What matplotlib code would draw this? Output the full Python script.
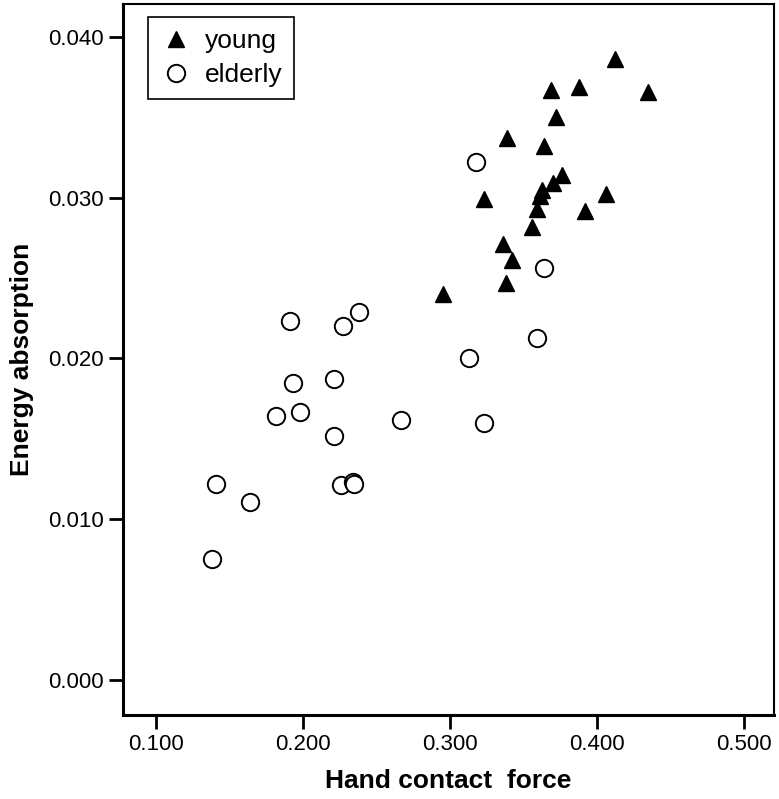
import matplotlib
matplotlib.use("Agg")
import matplotlib.pyplot as plt

# hand contact force / energy absorption
young_force = [0.412, 0.369, 0.388, 0.435, 0.372, 0.339, 0.364, 0.376, 0.370,
               0.363, 0.361, 0.406, 0.323, 0.359, 0.392, 0.356, 0.336, 0.342,
               0.338, 0.295]
young_energy = [0.0386, 0.0367, 0.0369, 0.0366, 0.0350, 0.0337, 0.0332, 0.0314,
                0.0309, 0.0305, 0.0301, 0.0302, 0.0299, 0.0293, 0.0292, 0.0282,
                0.0271, 0.0261, 0.0247, 0.0240]

elderly_force = [0.318, 0.364, 0.238, 0.191, 0.227, 0.359, 0.313, 0.221, 0.193,
                 0.198, 0.182, 0.267, 0.323, 0.221, 0.226, 0.234, 0.235, 0.141,
                 0.164, 0.138]
elderly_energy = [0.0322, 0.0256, 0.0229, 0.0223, 0.0220, 0.0213, 0.0200, 0.0187,
                  0.0185, 0.0167, 0.0164, 0.0162, 0.0160, 0.0152, 0.0121, 0.0123,
                  0.0122, 0.0122, 0.0111, 0.0075]

xticks = [0.1, 0.2, 0.3, 0.4, 0.5]
yticks = [0.0, 0.01, 0.02, 0.03, 0.04]

font = ['Liberation Sans', 'DejaVu Sans']

fig = plt.figure(figsize=(7.79, 7.99), dpi=100)
ax = fig.add_axes([123 / 779, 84 / 799, 651 / 779, 711 / 799])

ax.plot(young_force, young_energy, linestyle='none', marker='^', ms=11,
        color='black', label='young')
ax.plot(elderly_force, elderly_energy, linestyle='none', marker='o', ms=12.5,
        mfc='white', mec='black', mew=1.4, label='elderly')

ax.set_xlim(0.0776, 0.5205)
ax.set_ylim(-0.00218, 0.04205)
ax.set_xticks(xticks)
ax.set_yticks(yticks)
ax.set_xticklabels(['%0.3f' % v for v in xticks], family=font, fontsize=16)
ax.set_yticklabels(['%0.3f' % v for v in yticks], family=font, fontsize=16)
ax.tick_params(direction='out', length=10, width=2, pad=4, color='black')

for side in ['left', 'bottom']:
    ax.spines[side].set_linewidth(2.2)
for side in ['top', 'right']:
    ax.spines[side].set_linewidth(1.5)

ax.set_xlabel('Hand contact  force', family=font, fontweight='bold',
              fontsize=19, labelpad=10)
ax.set_ylabel('Energy absorption', family=font, fontweight='bold',
              fontsize=19, labelpad=10)

leg = ax.legend(loc='upper left', bbox_to_anchor=(0.0384, 0.9817),
                borderaxespad=0, fancybox=False, framealpha=1, edgecolor='black',
                prop={'family': font, 'size': 19}, handletextpad=0.45,
                labelspacing=0.4, borderpad=0.45, handlelength=1.25)
leg.get_frame().set_linewidth(1.2)

plt.savefig('out.png', dpi=100)
plt.close(fig)
